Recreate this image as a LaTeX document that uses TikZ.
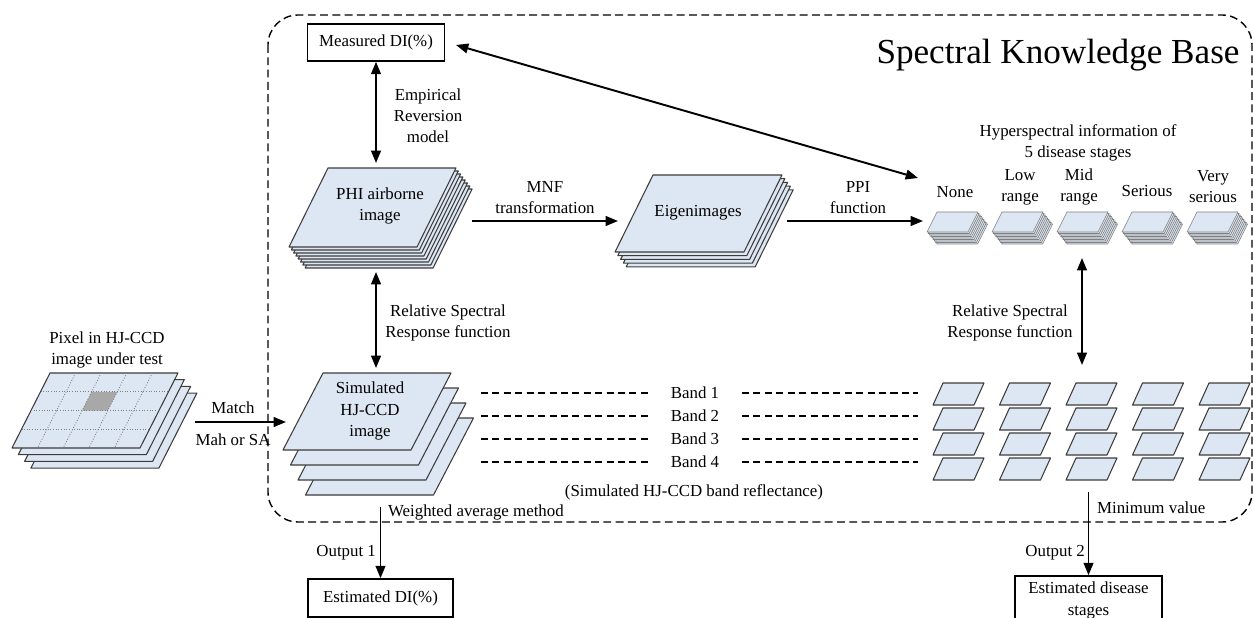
\documentclass[tikz,border=0pt]{standalone}
\usepackage{fontspec}
\setmainfont{Liberation Serif}
\usepackage{tikz}
\usetikzlibrary{arrows.meta}

\definecolor{layerblue}{RGB}{221,230,243}
\definecolor{edgegray}{RGB}{60,60,60}
\definecolor{cellgray}{RGB}{168,168,168}

% style, x, y (top left), width, height, skew, last layer, dx, dy
\newcommand{\imgstack}[9]{%
  \foreach \k in {#7,...,0}{
    \draw[#1] ({#2+\k*#8},{#3+\k*#9}) -- ++(#4,0) -- ++({-#6},#5) -- ++({-#4},0) -- cycle;
  }}

\begin{document}
\begin{tikzpicture}[x=0.02cm,y=-0.02cm,
  layer/.style={draw=edgegray,fill=layerblue,line width=0.6pt,line join=round},
  thinlayer/.style={draw=gray,fill=layerblue,line width=0.35pt,line join=round},
  tbox/.style={draw=black,line width=0.9pt,font=\fontsize{9.6}{12}\selectfont,align=center,inner sep=0pt},
  lbl/.style={font=\fontsize{9.6}{12}\selectfont,align=center,inner sep=1pt},
  biarrow/.style={draw,{Triangle[length=7pt,width=5.5pt]}-{Triangle[length=7pt,width=5.5pt]},line width=1.1pt},
  onearrow/.style={draw,-{Triangle[length=7pt,width=5.5pt]},line width=1.1pt},
  kbframe/.style={draw=black,line width=0.8pt,dash pattern=on 4.5pt off 2.5pt,rounded corners=0.6cm},
  bandline/.style={draw=black,line width=0.8pt,dash pattern=on 4pt off 2.5pt}]

	\useasboundingbox (0,0) rectangle (1254,618);

	\draw[kbframe] (268,15) rectangle (1252,522);
	\node[font=\fontsize{20}{24}\selectfont] (title) at (1058,55) {Spectral Knowledge Base};

	% image stacks
	\imgstack{layer}{328}{168}{128}{79}{39}{7}{2.3}{3}
	\imgstack{layer}{653}{175}{129}{77}{38}{4}{2.8}{3.7}
	\imgstack{layer}{323}{373}{128}{77}{40}{3}{7.5}{15}
	\imgstack{layer}{50}{373}{128}{75}{38}{3}{6.3}{6.7}

	% grid of the pixel image
	\fill[cellgray] ({50+0.4*128-0.25*38},{373+0.25*75}) -- ({50+0.6*128-0.25*38},{373+0.25*75})
	  -- ({50+0.6*128-0.5*38},{373+0.5*75}) -- ({50+0.4*128-0.5*38},{373+0.5*75}) -- cycle;
	\foreach \i in {1,...,4}
	  \draw[gray,densely dotted,line width=0.5pt] ({50+\i*25.6},373) -- ({12+\i*25.6},448);
	\foreach \j in {1,2,3}
	  \draw[gray,densely dotted,line width=0.5pt] ({50-\j*9.5},{373+\j*18.75}) -- ({178-\j*9.5},{373+\j*18.75});

	% hyperspectral stacks of the 5 stages
	\foreach \s in {0,...,4}{
	  \imgstack{thinlayer}{937+65*\s}{212}{41}{20}{10}{8}{1.2}{1.5}
	}

	% simulated band reflectance
	\foreach \s in {0,...,4}
	  \foreach \r in {0,...,3}
	    \draw[layer] ({943+66.5*\s},{383+25*\r}) -- ++(41,0) -- ++(-10,22) -- ++(-41,0) -- cycle;

	\foreach \r/\b in {0/1,1/2,2/3,3/4}{
	  \draw[bandline] (481,{393+23*\r}) -- (650,{393+23*\r});
	  \draw[bandline] (742,{393+23*\r}) -- (918,{393+23*\r});
	  \node[lbl] (band\b) at (695,{393+23*\r}) {Band \b};
	}
	\node[lbl] (reflect) at (694,492) {(Simulated HJ-CCD band reflectance)};

	% boxes
	\node[tbox,minimum width=2.74cm,minimum height=0.74cm] (mdi) at (376,42.5) {Measured DI(\%)};
	\node[tbox,minimum width=2.9cm,minimum height=0.76cm] (edi) at (380.5,598) {Estimated DI(\%)};
	\node[tbox,minimum width=2.94cm,minimum height=0.98cm] (eds) at (1088.5,600.5) {Estimated disease\\stages};

	% labels
	\node[lbl] (phitxt) at (380,206) {PHI airborne\\image};
	\node[lbl] (eigtxt) at (698,213) {Eigenimages};
	\node[lbl] (simtxt) at (370,411) {Simulated\\HJ-CCD\\image};
	\node[lbl] (pixtxt) at (107,350) {Pixel in HJ-CCD\\image under test};
	\node[lbl] (emptxt) at (428,116) {Empirical\\Reversion\\model};
	\node[lbl] (mnftxt) at (545,198) {MNF\\transformation};
	\node[lbl] (ppitxt) at (858,198) {PPI\\function};
	\node[lbl] (hyptxt) at (1078,143) {Hyperspectral information of\\5 disease stages};
	\node[lbl] (none) at (955,192) {None};
	\node[lbl] (low) at (1020,187) {Low\\range};
	\node[lbl] (mid) at (1079,187) {Mid\\range};
	\node[lbl] (serious) at (1147,191) {Serious};
	\node[lbl] (very) at (1213,187) {Very\\serious};
	\node[lbl] (rsrleft) at (448,323) {Relative Spectral\\Response function};
	\node[lbl] (rsrright) at (1010,323) {Relative Spectral\\Response function};
	\node[lbl] (match) at (233,408) {Match};
	\node[lbl] (mahsa) at (233,440) {Mah or SA};
	\node[lbl,anchor=west] (wavg) at (386,512) {Weighted average method};
	\node[lbl,anchor=east] (out1) at (378,553) {Output 1};
	\node[lbl,anchor=west] (minval) at (1095,508) {Minimum value};
	\node[lbl,anchor=east] (out2) at (1087,553) {Output 2};

	% connector ends
	\coordinate (phiTop) at (376,163);
	\coordinate (phiBot) at (376,272);
	\coordinate (simTop) at (376,368);
	\coordinate (phiR) at (472,221);
	\coordinate (eigL) at (618,221);
	\coordinate (eigR) at (787,221);
	\coordinate (noneL) at (923,221);
	\coordinate (mdiR) at (456,45);
	\coordinate (noneTL) at (918,178);
	\coordinate (pixR) at (195,422);
	\coordinate (simL) at (286,422);
	\coordinate (midB) at (1082,258);
	\coordinate (midcolT) at (1082,365);
	\coordinate (simB) at (380.5,507);
	\coordinate (minv) at (1088.5,492);

	\path (mdi.south) edge[biarrow] (phiTop);
	\path (mdiR) edge[biarrow] (noneTL);
	\path (phiBot) edge[biarrow] (simTop);
	\path (midB) edge[biarrow] (midcolT);
	\path (phiR) edge[onearrow] (eigL);
	\path (eigR) edge[onearrow] (noneL);
	\path (pixR) edge[onearrow] (simL);
	\path (simB) edge[onearrow] (edi.north);
	\path (minv) edge[onearrow] (eds.north);

\end{tikzpicture}
\end{document}
